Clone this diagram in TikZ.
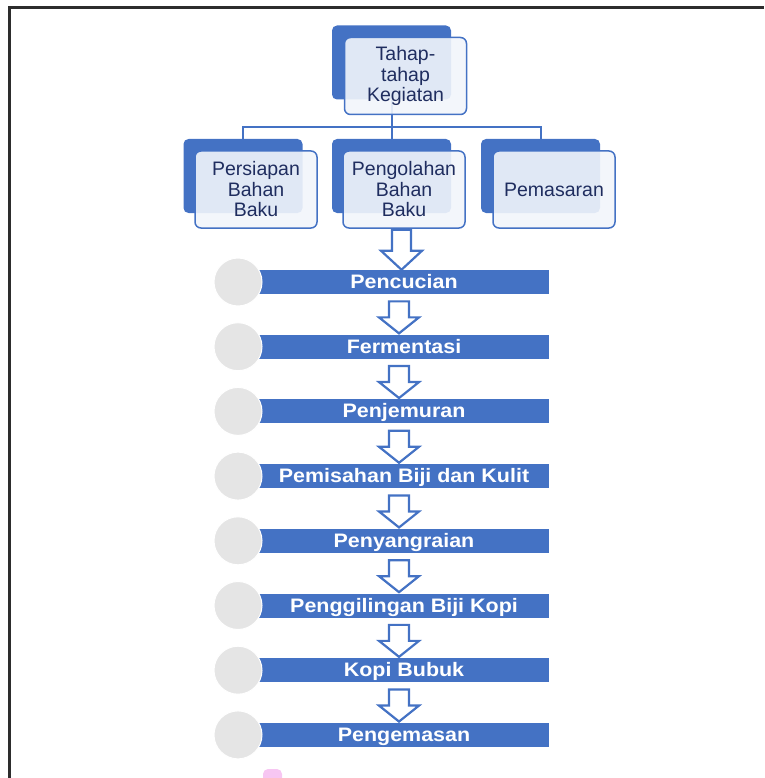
\documentclass[tikz,border=0pt]{standalone}
\usepackage{fontspec}
\setmainfont{Liberation Sans}
\newfontfamily\boxfont{Liberation Sans}
\newfontfamily\barfont{Liberation Sans}[FakeStretch=1.1]
\usetikzlibrary{calc}
\definecolor{officeblue}{RGB}{68,114,196}
\definecolor{boxfill}{RGB}{242,245,251}
\definecolor{navytext}{RGB}{31,45,95}
\definecolor{circlegray}{RGB}{229,229,229}
\definecolor{framegray}{RGB}{45,45,45}
\definecolor{pinkmark}{RGB}{247,198,242}
\newcommand{\hollowdown}[2]{%
\coordinate (mid) at ($(#1.south)!0.5!(#2.north)$);
\draw [flowarrow] ([xshift=-5pt]mid) ++(-10,-13) -- ++(0,16) -- ++(-10,0) -- ++(20,16) -- ++(20,-16) -- ++(-10,0) -- ++(0,-16) -- cycle ;}

\begin{document}
\begin{tikzpicture}[x=1pt,y=1pt,yscale=-1,xscale=1,
backbox/.style={fill=officeblue, rounded corners=5pt, minimum width=119pt, minimum height=74pt, inner sep=0pt},
frontbox/.style={draw=officeblue, line width=1.5pt, fill=boxfill, fill opacity=0.9, text opacity=1, rounded corners=6pt, minimum width=122pt, minimum height=77pt, inner sep=0pt, align=center, text=navytext, font=\boxfont\fontsize{19.5}{20.5}\selectfont},
treeline/.style={draw=officeblue, line width=2pt},
stepbar/.style={fill=officeblue, minimum width=290pt, minimum height=24pt, inner sep=0pt, text height=13pt, text depth=0pt, text=white, font=\barfont\bfseries\fontsize{19.5}{20}\selectfont},
stepdot/.style={circle, fill=circlegray, draw=white, line width=1pt, minimum size=48pt, inner sep=0pt},
flowarrow/.style={draw=officeblue, fill=white, line width=2.2pt, line join=miter}]
\useasboundingbox (0,0) rectangle (764,778);

%Frame
\draw [framegray, line width=2.5pt] (9.5,778) -- (9.5,7.5) -- (764,7.5) ;
%Pink mark
\fill [pinkmark, rounded corners=5pt] (263,769) rectangle (282,786) ;

%Back boxes
\node [backbox] (kegiatanbk) at (391.5,62.5) {};
\node [backbox] (persiapanbk) at (243,176) {};
\node [backbox] (pengolahanbk) at (391.5,176) {};
\node [backbox] (pemasaranbk) at (540.5,176) {};

%Tree lines
\draw [treeline] (kegiatanbk.south) -- ++(0,27) -| (persiapanbk.north) ;
\draw [treeline] (kegiatanbk.south) -- ++(0,27) -| (pemasaranbk.north) ;
\draw [treeline] (kegiatanbk.south) -- (pengolahanbk.north) ;

%Front boxes
\node [frontbox] (kegiatan) at (405.5,76) {Tahap-\\tahap\\Kegiatan};
\node [frontbox] (persiapan) at (256,189.5) {Persiapan\\Bahan\\Baku};
\node [frontbox] (pengolahan) at (404,189.5) {Pengolahan\\Bahan\\Baku};
\node [frontbox] (pemasaran) at (554,189.5) {Pemasaran};

%Step bars
\node [stepbar] (pencucian) at (404,282) {Pencucian};
\node [stepbar] (fermentasi) at (404,346.7) {Fermentasi};
\node [stepbar] (penjemuran) at (404,411.4) {Penjemuran};
\node [stepbar] (pemisahan) at (404,476.1) {Pemisahan Biji dan Kulit};
\node [stepbar] (penyangraian) at (404,540.8) {Penyangraian};
\node [stepbar] (penggilingan) at (404,605.5) {Penggilingan Biji Kopi};
\node [stepbar] (kopibubuk) at (404,670.2) {Kopi Bubuk};
\node [stepbar] (pengemasan) at (404,734.9) {Pengemasan};

%Step dots
\node [stepdot] (dota) at (238,282) {};
\node [stepdot] (dotb) at (238,346.7) {};
\node [stepdot] (dotc) at (238,411.4) {};
\node [stepdot] (dotd) at (238,476.1) {};
\node [stepdot] (dote) at (238,540.8) {};
\node [stepdot] (dotf) at (238,605.5) {};
\node [stepdot] (dotg) at (238,670.2) {};
\node [stepdot] (doth) at (238,734.9) {};

%Hollow arrows
\draw [flowarrow] ([xshift=-2.5pt]pengolahan.south) ++(-9.5,1) -- ++(0,21) -- ++(-11,0) -- ++(20.5,19) -- ++(20.5,-19) -- ++(-11,0) -- ++(0,-21) -- cycle ;
\hollowdown{pencucian}{fermentasi}
\hollowdown{fermentasi}{penjemuran}
\hollowdown{penjemuran}{pemisahan}
\hollowdown{pemisahan}{penyangraian}
\hollowdown{penyangraian}{penggilingan}
\hollowdown{penggilingan}{kopibubuk}
\hollowdown{kopibubuk}{pengemasan}

\end{tikzpicture}
\end{document}
